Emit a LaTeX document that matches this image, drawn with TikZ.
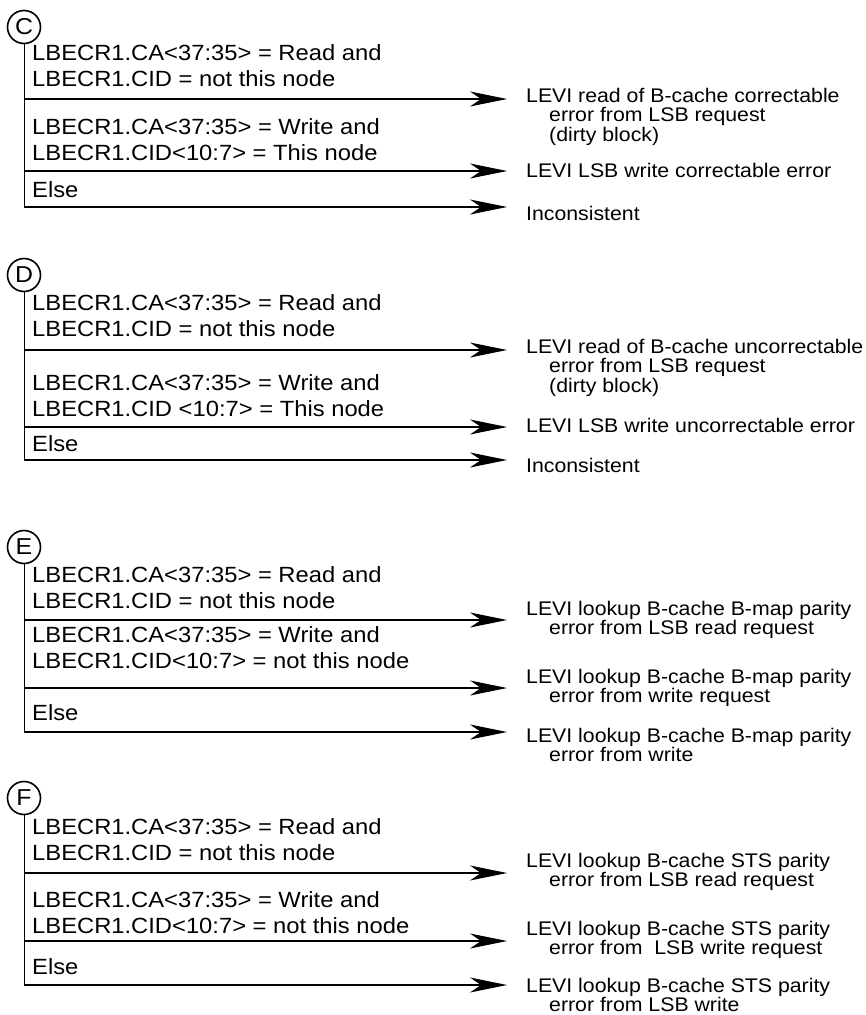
\documentclass[tikz,border=0pt]{standalone}
\usepackage{fontspec}
\setmainfont{Liberation Sans}[FakeStretch=1.08]
\usetikzlibrary{arrows.meta}
\begin{document}
\begin{tikzpicture}[x=1pt,y=-1pt,
  cond/.style={font=\fontsize{22}{26}\selectfont, anchor=base west, inner sep=0pt},
  res/.style={font=\fontsize{19.7}{18}\selectfont, anchor=base west, inner sep=0pt},
  tag/.style={circle, draw, line width=1.6pt, minimum size=33pt, inner sep=0pt, font=\fontsize{23}{23}\selectfont},
  rail/.style={line width=1pt},
  arr/.style={line width=1.1pt, -{Stealth[length=37pt,width=15pt,inset=11pt]}}]
\useasboundingbox (0,0) rectangle (866,1015);
\newcommand{\twol}[2]{\begin{tabular}[t]{@{}l@{}}#1\\#2\end{tabular}}
\newcommand{\resl}[3]{\begin{tabular}[t]{@{}l@{}}#1\\\hspace*{23pt}#2\\\hspace*{23pt}#3\end{tabular}}
\newcommand{\resii}[2]{\begin{tabular}[t]{@{}l@{}}#1\\\hspace*{23pt}#2\end{tabular}}
\def\arraystretch{1}

% ---------------- C ----------------
\node[tag] (tC) at (24,27) {C};
\coordinate (Cb) at (24,207);
\draw[rail] (tC.south) -- (Cb);
\node[cond] (C1) at (32,60) {\twol{LBECR1.CA<37:35> = Read and}{LBECR1.CID = not this node}};
\node[cond] (C2) at (32,134) {\twol{LBECR1.CA<37:35> = Write and}{LBECR1.CID<10:7> = This node}};
\node[cond] (C3) at (32,197) {Else};
\coordinate (C1s) at (24,99);  \coordinate (C1e) at (507,99);
\coordinate (C2s) at (24,171); \coordinate (C2e) at (507,171);
\coordinate (C3e) at (507,207);
\draw[arr] (C1s) -- (C1e);
\draw[arr] (C2s) -- (C2e);
\draw[arr] (Cb) -- (C3e);
\node[res] (RC1) at (526,102) {\resl{LEVI read of B-cache correctable}{error from LSB request}{(dirty block)}};
\node[res] (RC2) at (526,177) {LEVI LSB write correctable error};
\node[res] (RC3) at (526,220) {Inconsistent};

% ---------------- D ----------------
\node[tag] (tD) at (24,275) {D};
\coordinate (Db) at (24,460);
\draw[rail] (tD.south) -- (Db);
\node[cond] (D1) at (32,310) {\twol{LBECR1.CA<37:35> = Read and}{LBECR1.CID = not this node}};
\node[cond] (D2) at (32,390) {\twol{LBECR1.CA<37:35> = Write and}{LBECR1.CID <10:7> = This node}};
\node[cond] (D3) at (32,451) {Else};
\coordinate (D1s) at (24,350); \coordinate (D1e) at (507,350);
\coordinate (D2s) at (24,427); \coordinate (D2e) at (507,427);
\coordinate (D3e) at (507,460);
\draw[arr] (D1s) -- (D1e);
\draw[arr] (D2s) -- (D2e);
\draw[arr] (Db) -- (D3e);
\node[res] (RD1) at (526,353) {\resl{LEVI read of B-cache uncorrectable}{error from LSB request}{(dirty block)}};
\node[res] (RD2) at (526,432) {LEVI LSB write uncorrectable error};
\node[res] (RD3) at (526,472) {Inconsistent};

% ---------------- E ----------------
\node[tag] (tE) at (24,547) {E};
\coordinate (Eb) at (24,732);
\draw[rail] (tE.south) -- (Eb);
\node[cond] (E1) at (32,582) {\twol{LBECR1.CA<37:35> = Read and}{LBECR1.CID = not this node}};
\node[cond] (E2) at (32,642) {\twol{LBECR1.CA<37:35> = Write and}{LBECR1.CID<10:7> = not this node}};
\node[cond] (E3) at (32,720) {Else};
\coordinate (E1s) at (24,620); \coordinate (E1e) at (507,620);
\coordinate (E2s) at (24,688); \coordinate (E2e) at (507,688);
\coordinate (E3e) at (507,732);
\draw[arr] (E1s) -- (E1e);
\draw[arr] (E2s) -- (E2e);
\draw[arr] (Eb) -- (E3e);
\node[res] (RE1) at (526,615) {\resii{LEVI lookup B-cache B-map parity}{error from LSB read request}};
\node[res] (RE2) at (526,683) {\resii{LEVI lookup B-cache B-map parity}{error from write request}};
\node[res] (RE3) at (526,742) {\resii{LEVI lookup B-cache B-map parity}{error from write}};

% ---------------- F ----------------
\node[tag] (tF) at (24,798) {F};
\coordinate (Fb) at (24,985);
\draw[rail] (tF.south) -- (Fb);
\node[cond] (F1) at (32,834) {\twol{LBECR1.CA<37:35> = Read and}{LBECR1.CID = not this node}};
\node[cond] (F2) at (32,907) {\twol{LBECR1.CA<37:35> = Write and}{LBECR1.CID<10:7> = not this node}};
\node[cond] (F3) at (32,974) {Else};
\coordinate (F1s) at (24,873); \coordinate (F1e) at (507,873);
\coordinate (F2s) at (24,941); \coordinate (F2e) at (507,941);
\coordinate (F3e) at (507,985);
\draw[arr] (F1s) -- (F1e);
\draw[arr] (F2s) -- (F2e);
\draw[arr] (Fb) -- (F3e);
\node[res] (RF1) at (526,867) {\resii{LEVI lookup B-cache STS parity}{error from LSB read request}};
\node[res] (RF2) at (526,935) {\resii{LEVI lookup B-cache STS parity}{error from\ \ LSB write request}};
\node[res] (RF3) at (526,992) {\resii{LEVI lookup B-cache STS parity}{error from LSB write}};
\end{tikzpicture}
\end{document}
